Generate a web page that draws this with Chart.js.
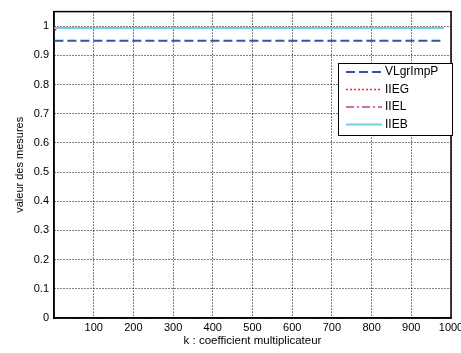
<!DOCTYPE html>
<html>
<head>
<meta charset="utf-8">
<script src="https://cdn.jsdelivr.net/npm/chart.js@4/dist/chart.umd.min.js"></script>
<style>
  html, body { margin: 0; padding: 0; background: #fff; }
  #wrap { width: 461px; height: 353px; }
</style>
</head>
<body>
<div id="wrap"><canvas id="chart" width="461" height="353"></canvas></div>
<script>
// k values (x) and measured values per series
const kValues   = [1, 11, 981];
const vlgrImpP  = [0.95, 0.95, 0.95];
const iieg      = [0.985, 0.994, 0.994];
const iiel      = [0.994, 0.994, 0.994];
const iieb      = [0.994, 0.994, 0.994];
const xTicks    = [100, 200, 300, 400, 500, 600, 700, 800, 900, 1000];
const yTicks    = [0, 0.1, 0.2, 0.3, 0.4, 0.5, 0.6, 0.7, 0.8, 0.9, 1];

const FONT = 'Liberation Sans, Arial, sans-serif';

function pts(ys){
    return kValues.map((k, i) => ({x: k, y: ys[i]}));
}

// legend box drawn inside the plot, like the matlab figure
const innerLegend = {
    id: 'innerLegend',
    afterDraw(chart){
        const ctx = chart.ctx;
        const x0 = 338, y0 = 63, w = 114, h = 72;
        ctx.save();
        ctx.fillStyle = '#fff';
        ctx.fillRect(x0, y0, w, h);
        ctx.strokeStyle = '#000';
        ctx.lineWidth = 1;
        ctx.strokeRect(x0 + 0.5, y0 + 0.5, w, h);
        ctx.font = '12px ' + FONT;
        ctx.textBaseline = 'middle';
        chart.data.datasets.forEach((ds, n) => {
            const y = y0 + 9 + n * 17.5;
            ctx.beginPath();
            ctx.strokeStyle = ds.borderColor;
            ctx.lineWidth = ds.borderWidth;
            ctx.setLineDash(ds.borderDash || []);
            ctx.moveTo(x0 + 8, y);
            ctx.lineTo(x0 + 44, y);
            ctx.stroke();
            ctx.setLineDash([]);
            ctx.fillStyle = '#000';
            ctx.fillText(ds.label, x0 + 47, y);
        });
        ctx.restore();
    }
};

const chart = new Chart(document.getElementById('chart'), {
    type: 'line',
    data: {
        datasets: [
            { label: 'VLgrImpP', data: pts(vlgrImpP), borderColor: '#3553a8', borderWidth: 2, borderDash: [9, 4], order: 4 },
            { label: 'IIEG', data: pts(iieg), borderColor: '#ff2020', borderWidth: 1.5, borderDash: [2, 2], order: 3 },
            { label: 'IIEL', data: pts(iiel), borderColor: '#c040a0', borderWidth: 1.5, borderDash: [8, 3, 2, 3], order: 2 },
            { label: 'IIEB', data: pts(iieb), borderColor: '#6ad2e2', borderWidth: 2, order: 1 }
        ]
    },
    options: {
        responsive: false,
        animation: false,
        devicePixelRatio: 1,
        elements: { point: { radius: 0 }, line: { tension: 0 } },
        layout: { padding: { top: 6, right: 10, left: 0, bottom: 0 } },
        plugins: { legend: { display: false }, tooltip: { enabled: false } },
        scales: {
            x: {
                type: 'linear',
                min: 0,
                max: 1000,
                afterBuildTicks: s => { s.ticks = xTicks.map(v => ({value: v})); },
                afterFit: s => { s.height = 35; s.paddingRight = 0; s.paddingLeft = 0; },
                ticks: { color: '#000', font: { family: FONT, size: 11 }, padding: 3, maxRotation: 0, callback: v => String(v) },
                grid: { color: '#000', lineWidth: 1, drawTicks: false },
                border: { color: '#000', width: 1.5, dash: [1, 2] },
                title: { display: true, text: 'k : coefficient multiplicateur', color: '#000', font: { family: FONT, size: 11.5 }, padding: { top: 0, bottom: 5 } }
            },
            y: {
                min: 0,
                max: 1.05,
                afterBuildTicks: s => { s.ticks = yTicks.map(v => ({value: v})); },
                afterFit: s => { s.width = 54; },
                ticks: { color: '#000', font: { family: FONT, size: 11 }, padding: 5, callback: v => String(v) },
                grid: { color: '#000', lineWidth: 1, drawTicks: false },
                border: { color: '#000', width: 1.5, dash: [1, 2] },
                title: { display: true, text: 'valeur des mesures', color: '#000', font: { family: FONT, size: 11 }, padding: { top: 13, bottom: 0 } }
            }
        }
    },
    plugins: [innerLegend, {
        id: 'frame',
        beforeDatasetsDraw(chart){
            const a = chart.chartArea, ctx = chart.ctx;
            ctx.save();
            ctx.strokeStyle = '#000';
            ctx.lineWidth = 1.5;
            ctx.strokeRect(a.left, a.top, a.right - a.left, a.bottom - a.top);
            ctx.restore();
        }
    }]
});
</script>
</body>
</html>
